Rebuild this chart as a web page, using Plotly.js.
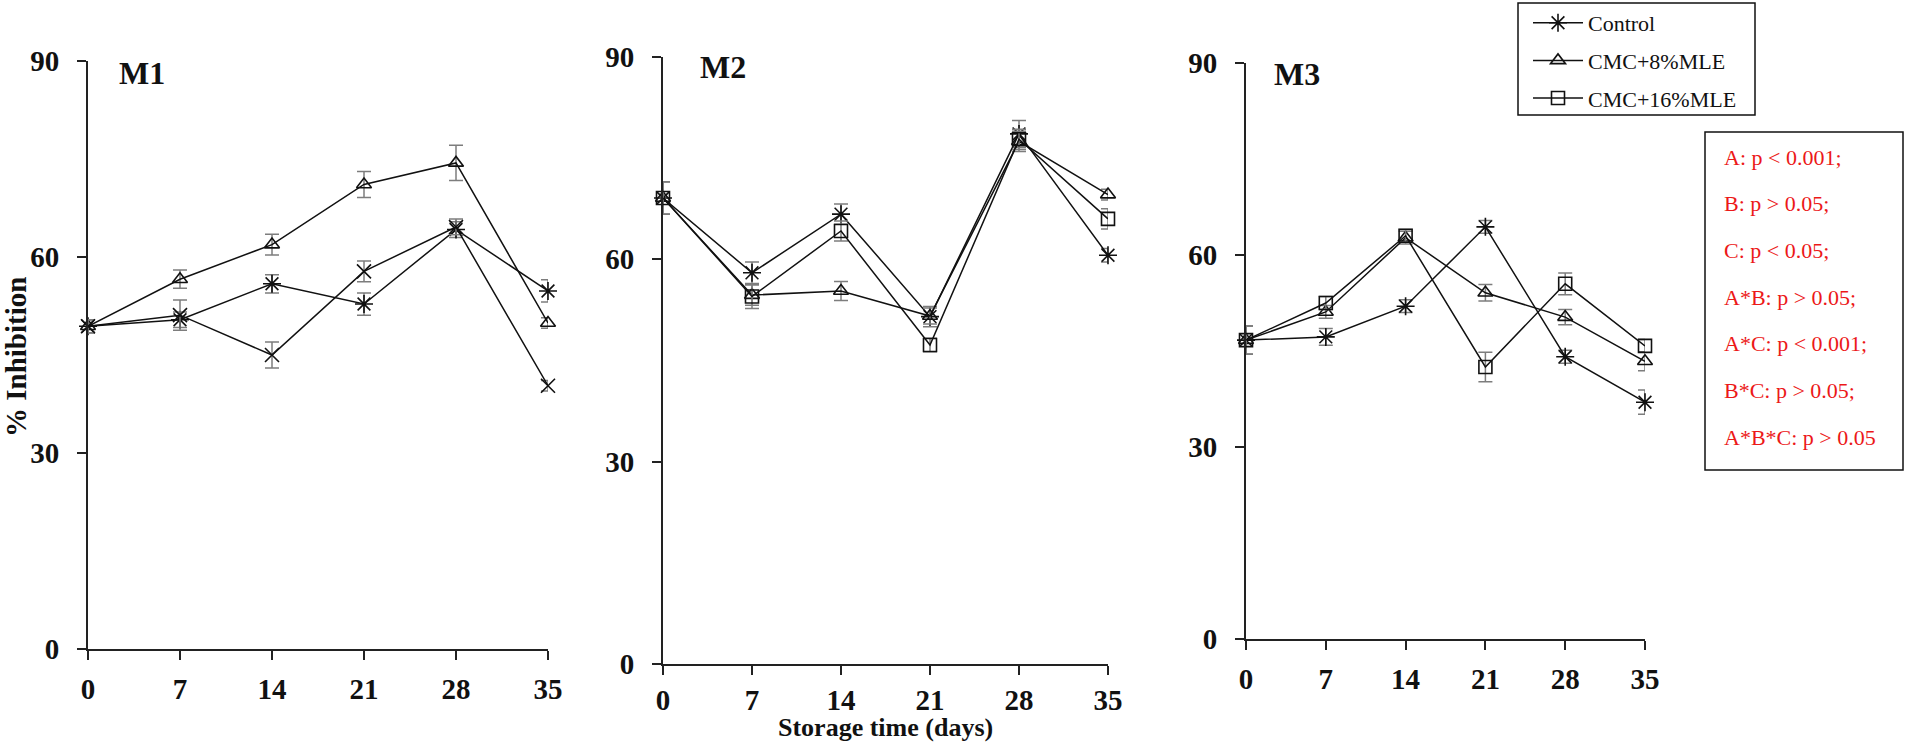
<!DOCTYPE html>
<html>
<head>
<meta charset="utf-8">
<script src="https://cdn.plot.ly/plotly-3.0.1.min.js"></script>
<style>
    html, body { margin: 0; padding: 0; background: #fff; }
    #chart { width: 1907px; height: 743px; }
</style>
</head>
<body>
<div id="chart"></div>
<script>
// storage days
const days = [0, 7, 14, 21, 28, 35]
const y_ticks = [0, 30, 60, 90]
const series_names = ['Control', 'CMC+8%MLE', 'CMC+16%MLE']
const panel_names = ['M1', 'M2', 'M3']

// M1
const m1_control = [49.4, 50.4, 55.9, 52.8, 64.2, 54.8]
const m1_control_err = [1.0, 1.2, 1.4, 1.7, 1.2, 1.7]
const m1_cmc8 = [49.4, 56.6, 61.9, 71.1, 74.4, 49.9]
const m1_cmc8_err = [1.0, 1.4, 1.6, 2.0, 2.7, 0.8]
const m1_cmc16 = [49.4, 51.1, 45.0, 57.8, 64.6, 40.3]
const m1_cmc16_err = [1.0, 2.3, 2.0, 1.6, 1.2, 0.8]

// M2
const m2_control = [69.1, 58.0, 66.7, 51.5, 78.6, 60.6]
const m2_control_err = [2.4, 1.6, 1.5, 1.5, 2.0, 1.0]
const m2_cmc8 = [69.1, 54.7, 55.3, 51.6, 77.5, 69.6]
const m2_cmc8_err = [2.4, 1.5, 1.4, 1.2, 1.5, 0.8]
const m2_cmc16 = [69.1, 54.5, 64.2, 47.3, 77.8, 66.0]
const m2_cmc16_err = [2.4, 1.8, 1.5, 1.0, 1.5, 1.5]

// M3
const m3_control = [46.7, 47.2, 52.0, 64.4, 44.1, 37.0]
const m3_control_err = [2.2, 1.3, 1.0, 1.0, 1.0, 1.9]
const m3_cmc8 = [46.7, 51.1, 62.7, 54.1, 50.3, 43.4]
const m3_cmc8_err = [2.2, 1.0, 1.0, 1.3, 1.2, 1.5]
const m3_cmc16 = [46.7, 52.5, 63.0, 42.5, 55.5, 45.8]
const m3_cmc16_err = [2.2, 1.0, 1.0, 2.3, 1.7, 1.0]

const stats = [
    'A: p < 0.001;',
    'B: p > 0.05;',
    'C: p < 0.05;',
    'A*B: p > 0.05;',
    'A*C: p < 0.001;',
    'B*C: p > 0.05;',
    'A*B*C: p > 0.05',
]

const W = 1907
const H = 743
const serif = 'Liberation Serif, Times New Roman, serif'

// pixel boxes of the three plot areas: [left, right, top, bottom]
const boxes = [
    [88, 548, 61, 649],
    [663, 1108, 57, 664],
    [1246, 1645, 63, 639],
]

function px_x(p) { return p / W }
function px_y(p) { return 1 - p / H }

function line_trace(name, y, err, n, symbol, size, showlegend) {
    const suffix = n == 0 ? '' : String(n + 1)
    return {
        type: 'scatter',
        mode: 'lines+markers',
        name: name,
        legendgroup: name,
        showlegend: showlegend,
        x: days,
        y: y,
        xaxis: 'x' + suffix,
        yaxis: 'y' + suffix,
        cliponaxis: false,
        line: {color: '#111', width: 1.5},
        marker: {
            symbol: symbol,
            size: size,
            color: '#111',
            line: {color: '#111', width: 1.6},
        },
        error_y: {
            type: 'data',
            array: err,
            visible: true,
            color: 'rgb(125,125,125)',
            thickness: 1.5,
            width: 7,
        },
    }
}

const traces = [
    line_trace(series_names[0], m1_control, m1_control_err, 0, 'asterisk-open', 15, false),
    line_trace(series_names[1], m1_cmc8, m1_cmc8_err, 0, 'triangle-up-open', 13, false),
    line_trace(series_names[2], m1_cmc16, m1_cmc16_err, 0, 'x-thin-open', 14, false),

    line_trace(series_names[0], m2_control, m2_control_err, 1, 'asterisk-open', 15, true),
    line_trace(series_names[1], m2_cmc8, m2_cmc8_err, 1, 'triangle-up-open', 13, true),
    line_trace(series_names[2], m2_cmc16, m2_cmc16_err, 1, 'square-open', 13, true),

    line_trace(series_names[0], m3_control, m3_control_err, 2, 'asterisk-open', 15, false),
    line_trace(series_names[1], m3_cmc8, m3_cmc8_err, 2, 'triangle-up-open', 13, false),
    line_trace(series_names[2], m3_cmc16, m3_cmc16_err, 2, 'square-open', 13, false),
]

const tick_font = {family: serif, size: 29, color: '#111', weight: 'bold'}

function x_axis(box, standoff) {
    return {
        domain: [px_x(box[0]), px_x(box[1])],
        range: [0, 35],
        tickvals: days,
        ticks: 'outside',
        ticklen: 9,
        tickwidth: 2,
        tickcolor: '#222',
        showline: true,
        linewidth: 2,
        linecolor: '#222',
        showgrid: false,
        zeroline: false,
        tickfont: tick_font,
        ticklabelstandoff: standoff,
        fixedrange: true,
    }
}

function y_axis(box, anchor) {
    return {
        domain: [px_y(box[3]), px_y(box[2])],
        range: [0, 90],
        tickvals: y_ticks,
        ticks: 'outside',
        ticklen: 9,
        tickwidth: 2,
        tickcolor: '#222',
        showline: true,
        linewidth: 2,
        linecolor: '#222',
        showgrid: false,
        zeroline: false,
        tickfont: tick_font,
        ticklabelstandoff: 12,
        anchor: anchor,
        fixedrange: true,
    }
}

const annotations = []

// panel labels
const label_pos = [[117, 73], [698, 67], [1272, 74]]
for (var i = 0; i < panel_names.length; i++) {
    annotations.push({
        xref: 'paper', yref: 'paper',
        x: px_x(label_pos[i][0]), y: px_y(label_pos[i][1]),
        xanchor: 'left', yanchor: 'middle',
        text: panel_names[i], showarrow: false,
        font: {family: serif, size: 32, color: '#111', weight: 'bold'},
    })
}

// axis titles
annotations.push({
    xref: 'paper', yref: 'paper',
    x: px_x(16), y: px_y(357),
    xanchor: 'center', yanchor: 'middle',
    text: '% Inhibition', textangle: -90, showarrow: false,
    font: {family: serif, size: 29, color: '#111', weight: 'bold'},
})
annotations.push({
    xref: 'paper', yref: 'paper',
    x: px_x(885), y: 0,
    xanchor: 'center', yanchor: 'bottom',
    text: 'Storage time (days)', showarrow: false,
    borderpad: 0,
    font: {family: serif, size: 26, color: '#111', weight: 'bold'},
})

// statistics text
for (var i = 0; i < stats.length; i++) {
    annotations.push({
        xref: 'paper', yref: 'paper',
        x: px_x(1722), y: px_y(157 + i * 46.7),
        xanchor: 'left', yanchor: 'middle',
        text: stats[i], showarrow: false,
        font: {family: serif, size: 22, color: 'rgb(236,24,24)'},
    })
}

const layout = {
    width: W,
    height: H,
    margin: {l: 0, r: 0, t: 0, b: 0},
    paper_bgcolor: '#fff',
    plot_bgcolor: 'rgba(0,0,0,0)',
    showlegend: true,
    legend: {
        x: px_x(1528), y: px_y(2),
        xanchor: 'left', yanchor: 'top',
        borderwidth: 0,
        bgcolor: 'rgba(0,0,0,0)',
        font: {family: serif, size: 22, color: '#111'},
        traceorder: 'grouped',
        tracegroupgap: 6,
        itemwidth: 50,
    },
    xaxis: x_axis(boxes[0], 4),
    yaxis: y_axis(boxes[0], 'x'),
    xaxis2: Object.assign(x_axis(boxes[1], 0), {anchor: 'y2'}),
    yaxis2: y_axis(boxes[1], 'x2'),
    xaxis3: Object.assign(x_axis(boxes[2], 4), {anchor: 'y3'}),
    yaxis3: y_axis(boxes[2], 'x3'),
    annotations: annotations,
    shapes: [
        {
            // legend frame
            type: 'rect',
            xref: 'paper', yref: 'paper',
            x0: px_x(1518), x1: px_x(1755),
            y0: px_y(115), y1: px_y(3),
            line: {color: '#111', width: 1.5},
        },
        {
            // statistics frame
            type: 'rect',
            xref: 'paper', yref: 'paper',
            x0: px_x(1705), x1: px_x(1903),
            y0: px_y(470), y1: px_y(132),
            line: {color: '#111', width: 1.5},
        },
    ],
}

Plotly.newPlot('chart', traces, layout, {displayModeBar: false, staticPlot: true})
</script>
</body>
</html>
